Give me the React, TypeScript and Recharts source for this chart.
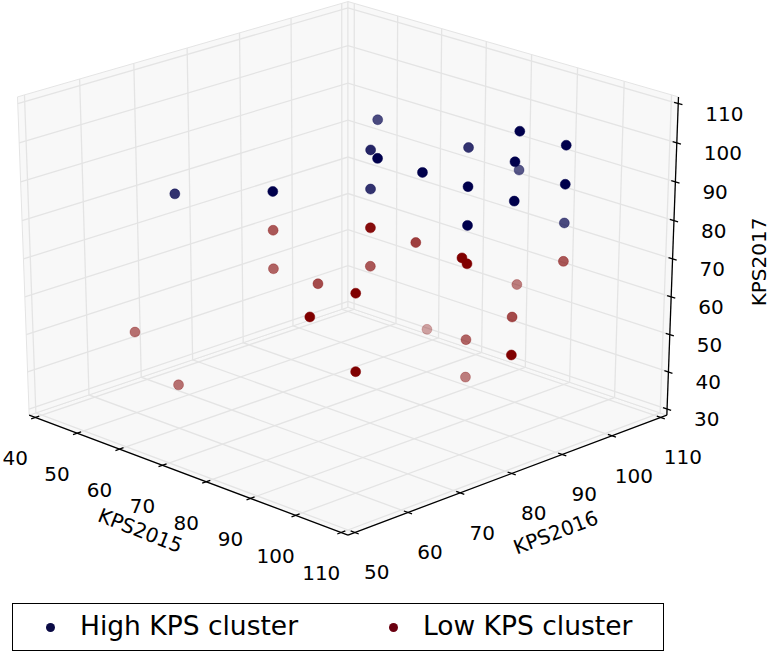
import { ScatterChart, Scatter, XAxis, YAxis } from "recharts";

const W = 771;
const H = 656;

// axis ranges and ticks
const X_RANGE = [40, 110];
const Y_RANGE = [50, 110];
const Z_RANGE = [30, 110];
const X_TICKS = [40, 50, 60, 70, 80, 90, 100, 110];
const Y_TICKS = [50, 60, 70, 80, 90, 100, 110];
const Z_TICKS = [30, 40, 50, 60, 70, 80, 90, 100, 110];

// High KPS cluster
const HIGH_2015 = [70, 80, 70, 60, 70, 80, 90, 90, 100, 80, 90, 100, 90, 100, 100, 90, 100];
const HIGH_2016 = [90, 80, 90, 60, 70, 80, 100, 90, 100, 90, 90, 90, 100, 100, 90, 90, 100];
const HIGH_2017 = [100, 100, 90, 90, 90, 90, 100, 100, 100, 90, 90, 100, 90, 90, 90, 80, 80];
const HIGH_SHADE = [0.7, 0.85, 1, 0.8, 1, 0.8, 1, 0.8, 1, 1, 1, 1, 0.65, 1, 1, 1, 0.7];

// Low KPS cluster
const LOW_2015 = [70, 80, 70, 80, 100, 90, 50, 60, 100, 90, 90, 90, 100, 90, 100, 70, 90, 100, 90, 80];
const LOW_2016 = [70, 80, 70, 70, 60, 60, 60, 60, 60, 80, 89, 90, 100, 100, 90, 100, 90, 90, 90, 80];
const LOW_2017 = [80, 80, 70, 70, 80, 70, 50, 40, 60, 80, 72, 70, 70, 60, 60, 40, 50, 50, 40, 70];
const LOW_SHADE = [0.65, 0.95, 0.6, 0.7, 1, 1, 0.55, 0.55, 1, 0.75, 1, 1, 0.65, 0.5, 0.7, 0.35, 0.6, 1, 0.5, 0.65];

const HIGH_COLOR = "#00004c";
const LOW_COLOR = "#800000";
const PANE_FILL = "#f8f8f8";
const GRID = "#e4e4e4";
const FONT = "DejaVu Sans";

// view (matplotlib-like perspective)
const ELEV = (25.5 * Math.PI) / 180;
const DIST = 12;
const PAD = 0.96;
const CX = 348;
const CY = 258.9;
const KX = 459;
const KY = 352.5;

const norm = (v: number, r: number[]) => ((v - r[0]) / (r[1] - r[0]) - 0.5) * PAD;

const projectN = (u: number, v: number, w: number) => {
  const h = (u + v) / Math.SQRT2;
  const d = (u - v) / Math.SQRT2;
  const up = w * Math.cos(ELEV) - d * Math.sin(ELEV);
  const dep = d * Math.cos(ELEV) + w * Math.sin(ELEV);
  const f = DIST / (DIST - dep);
  return { sx: CX + KX * h * f, sy: CY - KY * up * f };
};

const project = (x: number, y: number, z: number) =>
  projectN(norm(x, X_RANGE), norm(y, Y_RANGE), norm(z, Z_RANGE));

const path = (pts: number[][]) => pts.map(([u, v, w]) => projectN(u, v, w));

const highData = HIGH_2015.map((x, i) => ({ ...project(x, HIGH_2016[i], HIGH_2017[i]), shade: HIGH_SHADE[i] }));
const lowData = LOW_2015.map((x, i) => ({ ...project(x, LOW_2016[i], LOW_2017[i]), shade: LOW_SHADE[i] }));

const PANES = [
  path([[-0.5, -0.5, -0.5], [0.5, -0.5, -0.5], [0.5, 0.5, -0.5], [-0.5, 0.5, -0.5], [-0.5, -0.5, -0.5]]),
  path([[-0.5, -0.5, -0.5], [-0.5, 0.5, -0.5], [-0.5, 0.5, 0.5], [-0.5, -0.5, 0.5], [-0.5, -0.5, -0.5]]),
  path([[-0.5, 0.5, -0.5], [0.5, 0.5, -0.5], [0.5, 0.5, 0.5], [-0.5, 0.5, 0.5], [-0.5, 0.5, -0.5]]),
];

const GRIDLINES = [
  ...X_TICKS.map((t) => { const u = norm(t, X_RANGE); return path([[u, -0.5, -0.5], [u, 0.5, -0.5], [u, 0.5, 0.5]]); }),
  ...Y_TICKS.map((t) => { const v = norm(t, Y_RANGE); return path([[0.5, v, -0.5], [-0.5, v, -0.5], [-0.5, v, 0.5]]); }),
  ...Z_TICKS.map((t) => { const w = norm(t, Z_RANGE); return path([[-0.5, -0.5, w], [-0.5, 0.5, w], [0.5, 0.5, w]]); }),
];

const AXIS_LINES = [
  path([[-0.5, -0.5, -0.5], [0.5, -0.5, -0.5]]),
  path([[0.5, -0.5, -0.5], [0.5, 0.5, -0.5]]),
  path([[0.5, 0.5, -0.5], [0.5, 0.5, 0.5]]),
];

const T = 0.012;
const TICK_MARKS = [
  ...X_TICKS.map((t) => { const u = norm(t, X_RANGE); return path([[u, -0.5 - T, -0.5], [u, -0.5 + T, -0.5]]); }),
  ...Y_TICKS.map((t) => { const v = norm(t, Y_RANGE); return path([[0.5 - T, v, -0.5], [0.5 + T, v, -0.5]]); }),
  ...Z_TICKS.map((t) => { const w = norm(t, Z_RANGE); return path([[0.5 - T, 0.5, w], [0.5 + T, 0.5, w]]); }),
];

const xTickLabels = X_TICKS.map((t) => ({ ...projectN(norm(t, X_RANGE), -0.5, -0.5), label: String(t), dx: -20, dy: 41, anchor: "middle" }));
const yTickLabels = Y_TICKS.map((t) => ({ ...projectN(0.5, norm(t, Y_RANGE), -0.5), label: String(t), dx: 22, dy: 40, anchor: "middle" }));
const zTickLabels = Z_TICKS.map((t) => ({ ...projectN(0.5, 0.5, norm(t, Z_RANGE)), label: String(t), dx: 27, dy: 10, anchor: "start" }));

const axisTitles = [
  { ...projectN(0, -0.5, -0.5), label: "KPS2015", dx: -44, dy: 57, angle: 21.5 },
  { ...projectN(0.5, 0, -0.5), label: "KPS2016", dx: 44, dy: 59, angle: -20.7 },
  { ...projectN(0.5, 0.5, 0), label: "KPS2017", dx: 86, dy: 3, angle: -90 },
];

const noDot = () => <g />;

const tickText = (p: any) => (
  <text
    x={p.cx + p.payload.dx}
    y={p.cy + p.payload.dy}
    textAnchor={p.payload.anchor}
    dominantBaseline="central"
    fontSize={20}
    fontFamily={FONT}
    fill="#000"
  >
    {p.payload.label}
  </text>
);

const titleText = (p: any) => {
  const x = p.cx + p.payload.dx;
  const y = p.cy + p.payload.dy;
  return (
    <text
      x={x}
      y={y}
      textAnchor="middle"
      dominantBaseline="central"
      fontSize={20}
      fontFamily={FONT}
      fill="#000"
      transform={`rotate(${p.payload.angle} ${x} ${y})`}
    >
      {p.payload.label}
    </text>
  );
};

const dot = (color: string) => (p: any) => (
  <circle cx={p.cx} cy={p.cy} r={5} fill={color} fillOpacity={p.payload.shade} stroke={color} strokeOpacity={p.payload.shade} strokeWidth={0.5} />
);

export default function App() {
  return (
    <div style={{ position: "relative", width: W, height: H, background: "#fff", fontFamily: FONT }}>
      <style>{`body{margin:0;background:#fff}`}</style>
      <ScatterChart width={W} height={H} margin={{ top: 0, right: 0, bottom: 0, left: 0 }}>
        <XAxis type="number" dataKey="sx" domain={[0, W]} hide allowDataOverflow />
        <YAxis type="number" dataKey="sy" domain={[0, H]} reversed hide allowDataOverflow />

        {PANES.map((pts, i) => (
          <Scatter key={`pane${i}`} data={pts} shape={noDot} line={{ fill: PANE_FILL, stroke: GRID, strokeWidth: 1 }} isAnimationActive={false} />
        ))}
        {GRIDLINES.map((pts, i) => (
          <Scatter key={`grid${i}`} data={pts} shape={noDot} line={{ stroke: GRID, strokeWidth: 1.3 }} isAnimationActive={false} />
        ))}
        {AXIS_LINES.map((pts, i) => (
          <Scatter key={`axis${i}`} data={pts} shape={noDot} line={{ stroke: "#000", strokeWidth: 1.3 }} isAnimationActive={false} />
        ))}
        {TICK_MARKS.map((pts, i) => (
          <Scatter key={`tick${i}`} data={pts} shape={noDot} line={{ stroke: "#000", strokeWidth: 1.3 }} isAnimationActive={false} />
        ))}

        <Scatter data={xTickLabels} shape={tickText} isAnimationActive={false} />
        <Scatter data={yTickLabels} shape={tickText} isAnimationActive={false} />
        <Scatter data={zTickLabels} shape={tickText} isAnimationActive={false} />
        <Scatter data={axisTitles} shape={titleText} isAnimationActive={false} />

        <Scatter name="Low KPS cluster" data={lowData} shape={dot(LOW_COLOR)} isAnimationActive={false} />
        <Scatter name="High KPS cluster" data={highData} shape={dot(HIGH_COLOR)} isAnimationActive={false} />
      </ScatterChart>

      <div
        style={{
          position: "absolute",
          left: 12,
          top: 603,
          width: 652,
          height: 48,
          boxSizing: "border-box",
          border: "1.5px solid #000",
          background: "#fff",
          fontSize: 26.5,
          color: "#000",
        }}
      >
        <span style={{ position: "absolute", left: 33, top: 19, width: 9, height: 9, borderRadius: "50%", background: "#0b0b45" }} />
        <span style={{ position: "absolute", left: 67, top: 6, lineHeight: "32px" }}>High KPS cluster</span>
        <span style={{ position: "absolute", left: 376, top: 19, width: 9, height: 9, borderRadius: "50%", background: "#6a0010" }} />
        <span style={{ position: "absolute", left: 410, top: 6, lineHeight: "32px" }}>Low KPS cluster</span>
      </div>
    </div>
  );
}
